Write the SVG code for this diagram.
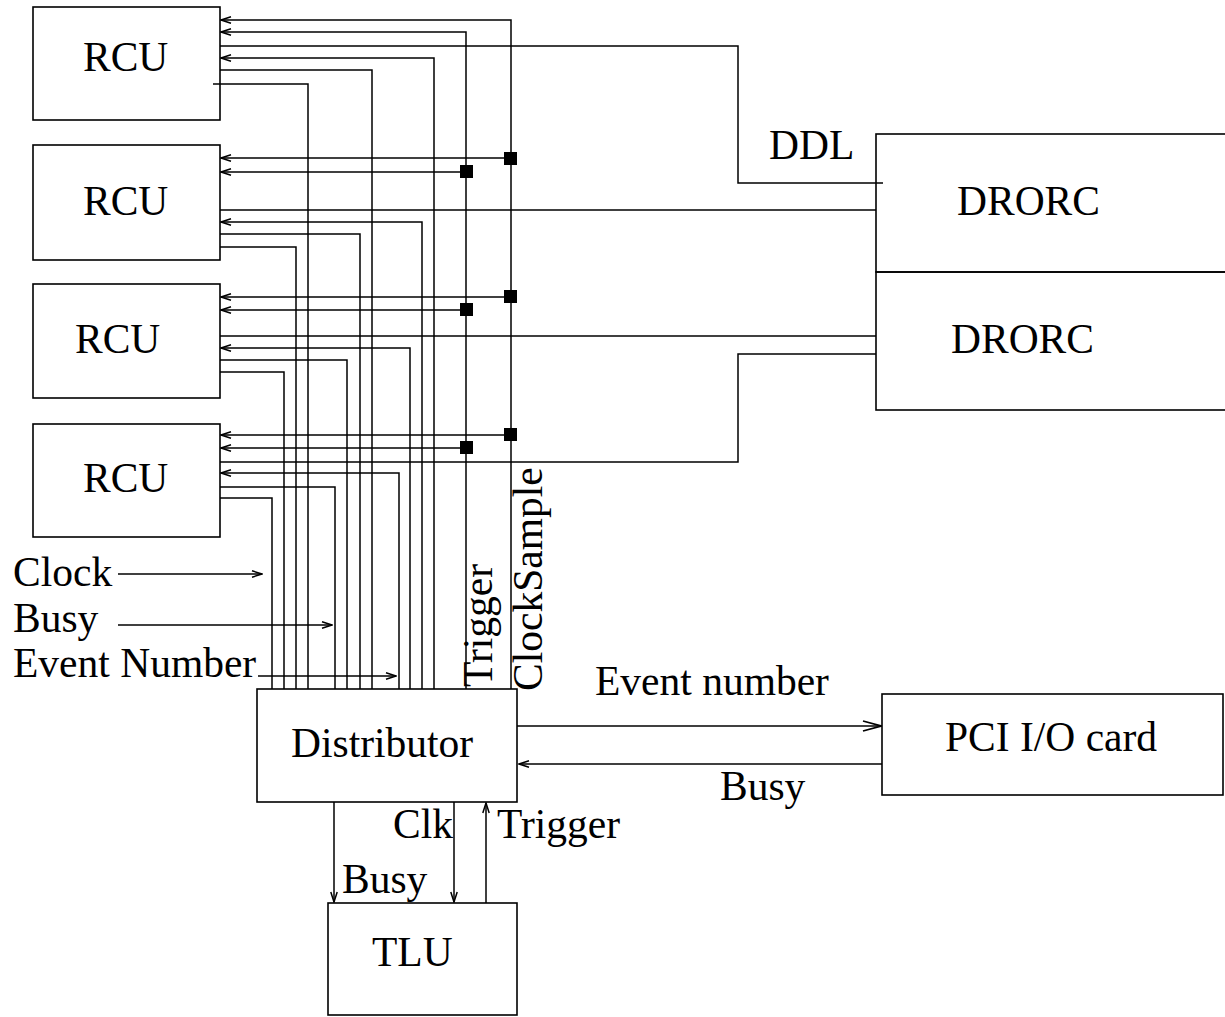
<svg xmlns="http://www.w3.org/2000/svg" width="1225" height="1017" viewBox="0 0 1225 1017">
<style>
.box{fill:none;stroke:#000;stroke-width:1.6}
.ln{fill:none;stroke:#000;stroke-width:1.5}
.t{font-family:"Liberation Serif","Times New Roman",serif;font-size:41.5px;fill:#000}
.dot{fill:#000}
</style>
<defs>
<marker id="a" markerUnits="userSpaceOnUse" viewBox="0 0 12 8" refX="11" refY="4" markerWidth="12" markerHeight="8" orient="auto">
<path d="M1,0.8 L11,4 L1,7.2" fill="none" stroke="#000" stroke-width="1.5"/>
</marker>
<marker id="ab" markerUnits="userSpaceOnUse" viewBox="0 0 20 12" refX="19" refY="6" markerWidth="20" markerHeight="12" orient="auto">
<path d="M1,1 L19,6 L1,11" fill="none" stroke="#000" stroke-width="1.8"/>
</marker>
</defs>
<rect width="1225" height="1017" fill="#fff"/>

<g id="connectors">
<path class="ln" d="M511,689 V20 H221" marker-end="url(#a)"/>
<path class="ln" d="M511,158 H221" marker-end="url(#a)"/>
<path class="ln" d="M511,297 H221" marker-end="url(#a)"/>
<path class="ln" d="M511,435 H221" marker-end="url(#a)"/>
<path class="ln" d="M466,689 V32 H221" marker-end="url(#a)"/>
<path class="ln" d="M466,172 H221" marker-end="url(#a)"/>
<path class="ln" d="M466,310 H221" marker-end="url(#a)"/>
<path class="ln" d="M466,448 H221" marker-end="url(#a)"/>
<path class="ln" d="M434,689 V58 H221" marker-end="url(#a)"/>
<path class="ln" d="M422,689 V222 H221" marker-end="url(#a)"/>
<path class="ln" d="M410,689 V348 H221" marker-end="url(#a)"/>
<path class="ln" d="M399,689 V473 H221" marker-end="url(#a)"/>
<path class="ln" d="M220,70 H372 V689"/>
<path class="ln" d="M220,234 H360 V689"/>
<path class="ln" d="M220,360 H347 V689"/>
<path class="ln" d="M220,487 H335 V689"/>
<path class="ln" d="M213,84 H308 V689"/>
<path class="ln" d="M220,247 H296 V689"/>
<path class="ln" d="M220,372 H284 V689"/>
<path class="ln" d="M220,498 H272 V689"/>
<path class="ln" d="M220,46 H738 V183 H883"/>
<path class="ln" d="M220,210 H876"/>
<path class="ln" d="M220,336 H876"/>
<path class="ln" d="M220,462 H738 V354 H876"/>
<rect class="dot" x="504" y="152" width="13" height="13"/>
<rect class="dot" x="460" y="165" width="13" height="13"/>
<rect class="dot" x="504" y="290" width="13" height="13"/>
<rect class="dot" x="460" y="303" width="13" height="13"/>
<rect class="dot" x="504" y="428" width="13" height="13"/>
<rect class="dot" x="460" y="441" width="13" height="13"/>
<path class="ln" d="M118,574 H262" marker-end="url(#a)"/>
<path class="ln" d="M118,625 H332" marker-end="url(#a)"/>
<path class="ln" d="M258,676 H396" marker-end="url(#a)"/>
<path class="ln" d="M517,726 H881" marker-end="url(#ab)"/>
<path class="ln" d="M882,764 H519" marker-end="url(#a)"/>
<path class="ln" d="M334,802 V902" marker-end="url(#a)"/>
<path class="ln" d="M454,802 V902" marker-end="url(#a)"/>
<path class="ln" d="M486,903 V803" marker-end="url(#a)"/>
</g>

<g font-family="Liberation Serif, Times New Roman, serif">
<g id="rcu1"><rect class="box" x="33" y="7" width="187" height="113"/><text class="t" x="83" y="71">RCU</text></g>
<g id="rcu2"><rect class="box" x="33" y="145" width="187" height="115"/><text class="t" x="83" y="215">RCU</text></g>
<g id="rcu3"><rect class="box" x="33" y="284" width="187" height="114"/><text class="t" x="75" y="353">RCU</text></g>
<g id="rcu4"><rect class="box" x="33" y="424" width="187" height="113"/><text class="t" x="83" y="492">RCU</text></g>
<g id="drorc1"><rect class="box" x="876" y="134" width="380" height="138"/><text class="t" x="957" y="215">DRORC</text></g>
<g id="drorc2"><rect class="box" x="876" y="272" width="380" height="138"/><text class="t" x="951" y="353">DRORC</text></g>
<g id="distributor"><rect class="box" x="257" y="689" width="260" height="113"/><text class="t" x="291" y="757">Distributor</text></g>
<g id="pci"><rect class="box" x="882" y="694" width="341" height="101"/><text class="t" x="945" y="751">PCI I/O card</text></g>
<g id="tlu"><rect class="box" x="328" y="903" width="189" height="112"/><text class="t" x="372" y="966">TLU</text></g>

<g id="labels">
<text class="t" x="769" y="159">DDL</text>
<text class="t" x="13" y="586">Clock</text>
<text class="t" x="13" y="632">Busy</text>
<text class="t" x="13" y="677">Event Number</text>
<text class="t" transform="translate(492,687) rotate(-90)">Trigger</text>
<text class="t" transform="translate(542,691) rotate(-90)">ClockSample</text>
<text class="t" x="595" y="695">Event number</text>
<text class="t" x="720" y="800">Busy</text>
<text class="t" x="393" y="838">Clk</text>
<text class="t" x="497" y="838">Trigger</text>
<text class="t" x="342" y="893">Busy</text>
</g>
</g>
</svg>
